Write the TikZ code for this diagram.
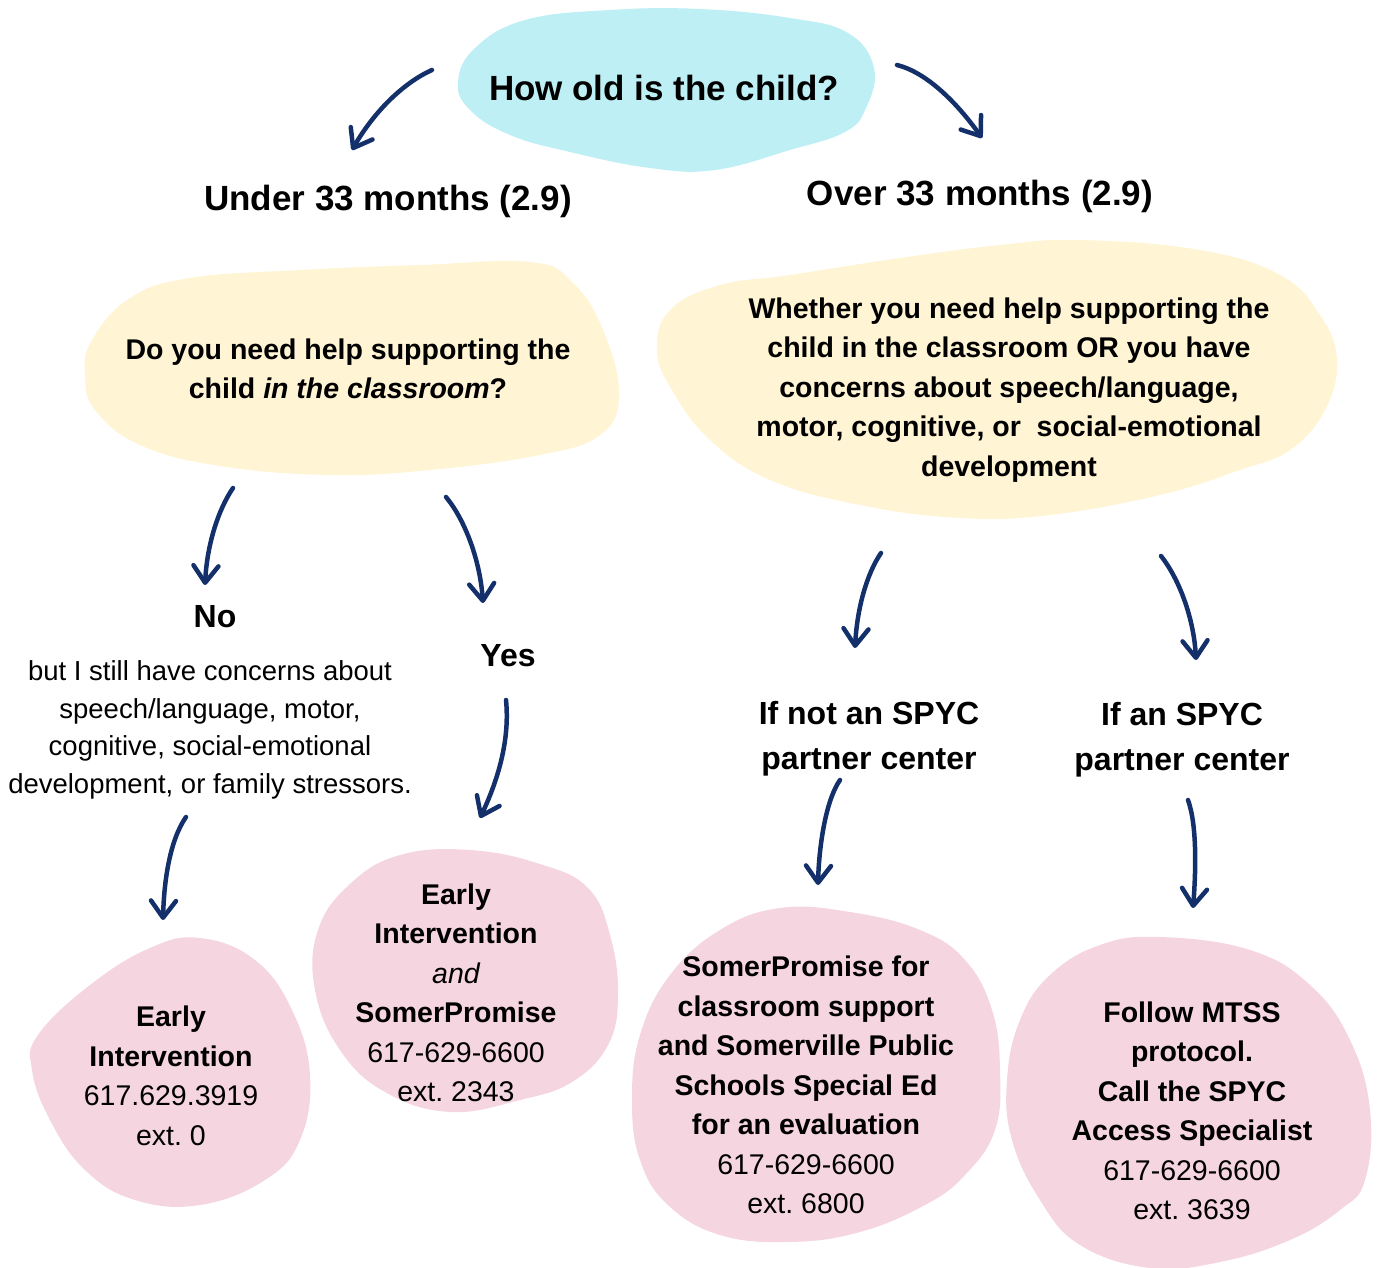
\documentclass[tikz,border=0pt]{standalone}
\usepackage{fontspec}
\setmainfont{Liberation Sans}
\usetikzlibrary{arrows.meta}

\definecolor{skyblob}{HTML}{BDEFF4}
\definecolor{creamblob}{HTML}{FFF4D4}
\definecolor{roseblob}{HTML}{F5D5E0}
\definecolor{inkblue}{HTML}{14306A}

\begin{document}
\frenchspacing
\begin{tikzpicture}[x=1pt,y=-1pt,
  every node/.style={inner sep=0pt,align=center,text=black},
  bigtext/.style={font=\fontsize{35}{42}\selectfont\bfseries},
  midtext/.style={font=\fontsize{32}{45}\selectfont\bfseries},
  blobtext/.style={font=\fontsize{28.5}{39.5}\selectfont\bfseries},
  plaintext/.style={font=\fontsize{27.5}{37.5}\selectfont},
  curvy/.style={draw=inkblue,line width=4.5pt,line cap=round,
    -{Straight Barb[length=17pt,width=25pt,round]}}]
\useasboundingbox (0,0) rectangle (1382,1268);

% blobs
\fill [skyblob] plot [smooth cycle,tension=0.7] coordinates {(475,48) (525,20) (610,10) (700,9) (790,18) (848,33) (874,68) (866,108) (845,132) (790,150) (715,170) (650,168) (570,152) (510,135) (470,110) (458,82)};
\fill [creamblob] plot [smooth cycle,tension=0.7] coordinates {(92,340) (130,298) (190,278) (300,270) (420,265) (530,262) (572,282) (603,330) (619,395) (600,435) (540,455) (430,470) (330,475) (220,466) (140,445) (95,410) (85,375)};
\fill [creamblob] plot [smooth cycle,tension=0.7] coordinates {(790,275) (900,258) (1000,245) (1080,240) (1200,250) (1280,275) (1320,315) (1337,360) (1325,410) (1290,450) (1240,470) (1160,495) (1050,515) (960,518) (860,505) (770,480) (710,440) (672,390) (657,350) (670,310) (720,285)};
\fill [roseblob] plot [smooth cycle,tension=0.7] coordinates {(38,1035) (90,985) (150,948) (200,938) (255,960) (292,1010) (310,1075) (300,1140) (265,1180) (200,1205) (135,1200) (85,1170) (50,1120) (32,1070)};
\fill [roseblob] plot [smooth cycle,tension=0.7] coordinates {(400,855) (470,850) (540,864) (588,888) (610,935) (618,995) (608,1045) (572,1082) (520,1100) (450,1112) (385,1092) (340,1050) (315,990) (318,930) (350,884)};
\fill [roseblob] plot [smooth cycle,tension=0.7] coordinates {(780,908) (850,912) (920,930) (965,960) (992,1010) (1000,1070) (995,1130) (965,1175) (925,1205) (860,1232) (790,1242) (720,1235) (668,1205) (640,1160) (632,1100) (640,1035) (670,975) (720,930)};
\fill [roseblob] plot [smooth cycle,tension=0.7] coordinates {(1160,937) (1250,950) (1310,985) (1350,1040) (1370,1110) (1365,1180) (1340,1210) (1290,1240) (1220,1262) (1150,1268) (1080,1245) (1040,1200) (1012,1140) (1007,1080) (1020,1020) (1050,975) (1100,945)};

% texts
\node [bigtext] (age) at (664,88) {How old is the child?};
\node [bigtext] (under) at (388,201) {Under 33 months (2.9)};
\node [bigtext] (over) at (980,196) {Over 33 months (2.9)};
\node [blobtext] (classq) at (348,369) {Do you need help supporting the\\child \textit{in the classroom}?};
\node [blobtext] (anyq) at (1009,390) {Whether you need help supporting the\\child in the classroom OR you have\\concerns about speech/language,\\motor, cognitive, or\ \ social-emotional\\development};
\node [midtext] (no) at (215,617) {No};
\node [plaintext] (notext) at (210,730) {but I still have concerns about\\speech/language, motor,\\cognitive, social-emotional\\development, or family stressors.};
\node [midtext] (yes) at (508,656) {Yes};
\node [blobtext] (ei) at (171,1076) {Early\\Intervention\\{\mdseries 617.629.3919}\\{\mdseries ext. 0}};
\node [blobtext] (eisp) at (456,993) {Early\\Intervention\\{\mdseries\itshape and}\\SomerPromise\\{\mdseries 617-629-6600}\\{\mdseries ext. 2343}};
\node [midtext] (notpartner) at (869,739) {If not an SPYC\\partner center};
\node [midtext] (partner) at (1182,740) {If an SPYC\\partner center};
\node [blobtext] (sped) at (806,1085) {SomerPromise for\\classroom support\\and Somerville Public\\Schools Special Ed\\for an evaluation\\{\mdseries 617-629-6600}\\{\mdseries ext. 6800}};
\node [blobtext] (mtss) at (1192,1111) {Follow MTSS\\protocol.\\Call the SPYC\\Access Specialist\\{\mdseries 617-629-6600}\\{\mdseries ext. 3639}};

% arrow ends
\coordinate (ageL) at (432,70);   \coordinate (underT) at (352,150);
\coordinate (ageR) at (897,65);   \coordinate (overT) at (982,138);
\coordinate (classL) at (233,488); \coordinate (noT) at (205,585);
\coordinate (classR) at (446,497); \coordinate (yesT) at (483,603);
\coordinate (yesB) at (506,700);  \coordinate (eispT) at (480,818);
\coordinate (notextB) at (186,817); \coordinate (eiT) at (163,920);
\coordinate (anyL) at (881,553);  \coordinate (notpartnerT) at (855,648);
\coordinate (anyR) at (1161,556); \coordinate (partnerT) at (1196,660);
\coordinate (notpartnerB) at (840,780); \coordinate (spedT) at (818,885);
\coordinate (partnerB) at (1188,800); \coordinate (mtssT) at (1193,908);

% arrows
\draw [curvy] (ageL) .. controls (405,82) and (375,110) .. (underT);
\draw [curvy] (ageR) .. controls (925,72) and (955,100) .. (overT);
\draw [curvy] (classL) .. controls (218,510) and (207,545) .. (noT);
\draw [curvy] (classR) .. controls (465,520) and (480,560) .. (yesT);
\draw [curvy] (yesB) .. controls (510,740) and (498,780) .. (eispT);
\draw [curvy] (notextB) .. controls (170,840) and (164,880) .. (eiT);
\draw [curvy] (anyL) .. controls (866,575) and (857,610) .. (notpartnerT);
\draw [curvy] (anyR) .. controls (1180,580) and (1194,620) .. (partnerT);
\draw [curvy] (notpartnerB) .. controls (826,800) and (819,845) .. (spedT);
\draw [curvy] (partnerB) .. controls (1197,825) and (1196,870) .. (mtssT);
\end{tikzpicture}
\end{document}
